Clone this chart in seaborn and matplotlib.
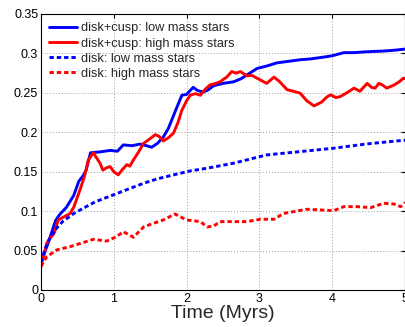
import matplotlib
matplotlib.use("Agg")
import matplotlib.pyplot as plt
import seaborn as sns
import numpy as np
from matplotlib.ticker import FuncFormatter

# ---- data ----
t_cusp_low = [0, 0.1, 0.2, 0.25, 0.35, 0.45, 0.52, 0.58, 0.62, 0.68, 0.8, 0.95, 1.05, 1.13, 1.25,
              1.36, 1.45, 1.52, 1.6, 1.68, 1.75, 1.85, 1.935, 2.0, 2.09, 2.15, 2.23, 2.3, 2.37, 2.5,
              2.645, 2.75, 2.85, 2.97, 3.1, 3.24, 3.4, 3.56, 3.7, 3.88, 4.0, 4.16, 4.3, 4.45, 4.57,
              4.7, 4.85, 5.0]
y_cusp_low = [0.035, 0.06, 0.088, 0.095, 0.105, 0.12, 0.138, 0.145, 0.152, 0.174, 0.175, 0.177, 0.176,
              0.184, 0.183, 0.185, 0.183, 0.181, 0.186, 0.194, 0.205, 0.228, 0.247, 0.248, 0.257, 0.253,
              0.251, 0.254, 0.259, 0.262, 0.264, 0.268, 0.274, 0.281, 0.284, 0.288, 0.290, 0.292, 0.293,
              0.2953, 0.297, 0.301, 0.301, 0.302, 0.3025, 0.303, 0.304, 0.3055]

t_cusp_high = [0, 0.078, 0.12, 0.18, 0.238, 0.3, 0.4, 0.45, 0.536, 0.6, 0.65, 0.72, 0.76, 0.81, 0.85,
               0.9, 0.95, 1.0, 1.06, 1.12, 1.18, 1.22, 1.27, 1.34, 1.41, 1.5, 1.57, 1.62, 1.68, 1.75,
               1.82, 1.88, 1.935, 2.0, 2.05, 2.12, 2.19, 2.25, 2.32, 2.4, 2.46, 2.55, 2.62, 2.68, 2.74,
               2.83, 2.9, 3.01, 3.1, 3.2, 3.28, 3.38, 3.47, 3.56, 3.65, 3.75, 3.85, 3.93, 3.98, 4.05,
               4.11, 4.2, 4.3, 4.38, 4.48, 4.54, 4.59, 4.64, 4.69, 4.75, 4.85, 4.92, 4.98, 5.0]
y_cusp_high = [0.03, 0.059, 0.065, 0.072, 0.089, 0.092, 0.097, 0.105, 0.127, 0.145, 0.165, 0.174, 0.168,
               0.161, 0.152, 0.155, 0.1565, 0.15, 0.146, 0.153, 0.159, 0.157, 0.165, 0.175, 0.186, 0.192,
               0.197, 0.195, 0.189, 0.193, 0.199, 0.212, 0.228, 0.24, 0.247, 0.249, 0.247, 0.254, 0.26,
               0.262, 0.264, 0.27, 0.277, 0.275, 0.277, 0.2716, 0.272, 0.2665, 0.262, 0.27, 0.264, 0.254,
               0.252, 0.2496, 0.240, 0.2335, 0.238, 0.245, 0.2475, 0.244, 0.2453, 0.25, 0.256, 0.252,
               0.262, 0.257, 0.256, 0.262, 0.26, 0.256, 0.26, 0.264, 0.2687, 0.268]

t_disk_low = [0, 0.05, 0.1, 0.19, 0.3, 0.45, 0.58, 0.75, 0.99, 1.2, 1.41, 1.6, 1.82, 2.05, 2.28, 2.645,
              3.1, 3.56, 4.02, 4.48, 5.0]
y_disk_low = [0.035, 0.05, 0.062, 0.076, 0.087, 0.097, 0.1037, 0.112, 0.1205, 0.128, 0.1354, 0.141,
              0.146, 0.151, 0.1544, 0.1608, 0.1713, 0.1755, 0.1798, 0.1853, 0.19]

t_disk_high = [0, 0.078, 0.216, 0.4, 0.54, 0.72, 0.9, 1.04, 1.13, 1.27, 1.41, 1.545, 1.68, 1.84, 2.0,
               2.19, 2.28, 2.37, 2.46, 2.645, 2.83, 3.01, 3.2, 3.33, 3.47, 3.65, 3.84, 4.02, 4.16, 4.34,
               4.53, 4.71, 4.85, 4.94, 5.0]
y_disk_high = [0.03, 0.042, 0.0508, 0.055, 0.059, 0.0643, 0.062, 0.0677, 0.074, 0.0669, 0.080, 0.0846,
               0.0888, 0.0964, 0.0888, 0.0867, 0.080, 0.081, 0.0867, 0.0867, 0.0867, 0.0897, 0.0897,
               0.097, 0.0994, 0.1024, 0.1015, 0.1006, 0.1057, 0.1057, 0.1045, 0.11, 0.109, 0.1057, 0.111]

labels = ["disk+cusp: low mass stars", "disk+cusp: high mass stars",
          "disk: low mass stars", "disk: high mass stars"]
x_ticks = [0, 1, 2, 3, 4, 5]
y_ticks = [0, 0.05, 0.1, 0.15, 0.2, 0.25, 0.3, 0.35]

# ---- style ----
sns.set_style("white")
plt.rcParams['font.family'] = ['Liberation Sans', 'DejaVu Sans']

fig = plt.figure(figsize=(4.06, 3.27), dpi=100)
ax = fig.add_axes([41 / 406, 1 - 290 / 327, 364 / 406, 276 / 327])

lw = 2.1
dots = (0, (1.5, 1.0))
sns.lineplot(x=t_cusp_low, y=y_cusp_low, ax=ax, color=(0, 0, 1), lw=lw, label=labels[0], sort=False)
sns.lineplot(x=t_cusp_high, y=y_cusp_high, ax=ax, color=(1, 0, 0), lw=lw, label=labels[1], sort=False)
sns.lineplot(x=t_disk_low, y=y_disk_low, ax=ax, color=(0, 0, 1), lw=lw, label=labels[2], sort=False,
             linestyle=dots)
sns.lineplot(x=t_disk_high, y=y_disk_high, ax=ax, color=(1, 0, 0), lw=lw, label=labels[3], sort=False,
             linestyle=dots)

ax.set_xlim(0, 5)
ax.set_ylim(0, 0.35)
ax.set_xticks(x_ticks)
ax.set_yticks(y_ticks)
ax.xaxis.set_major_formatter(FuncFormatter(lambda v, p: f"{v:g}"))
ax.yaxis.set_major_formatter(FuncFormatter(lambda v, p: f"{v:g}"))
ax.tick_params(direction='in', length=3, width=0.8, top=True, right=True, labelsize=9,
               colors='black', pad=2)
ax.grid(True, linestyle=(0, (1, 2)), color='#a0a0a0', lw=0.7)
ax.set_axisbelow(True)
for s in ax.spines.values():
    s.set_color('black')
    s.set_linewidth(0.8)

ax.set_xlabel("Time (Myrs)", fontsize=14, labelpad=0)
ax.set_ylabel("")

ax.legend(loc='upper left', frameon=False, fontsize=9.2, handlelength=2.2, handletextpad=0.25,
          labelspacing=0.25, borderaxespad=0.45, borderpad=0.2)

fig.savefig("out.png", dpi=100)
